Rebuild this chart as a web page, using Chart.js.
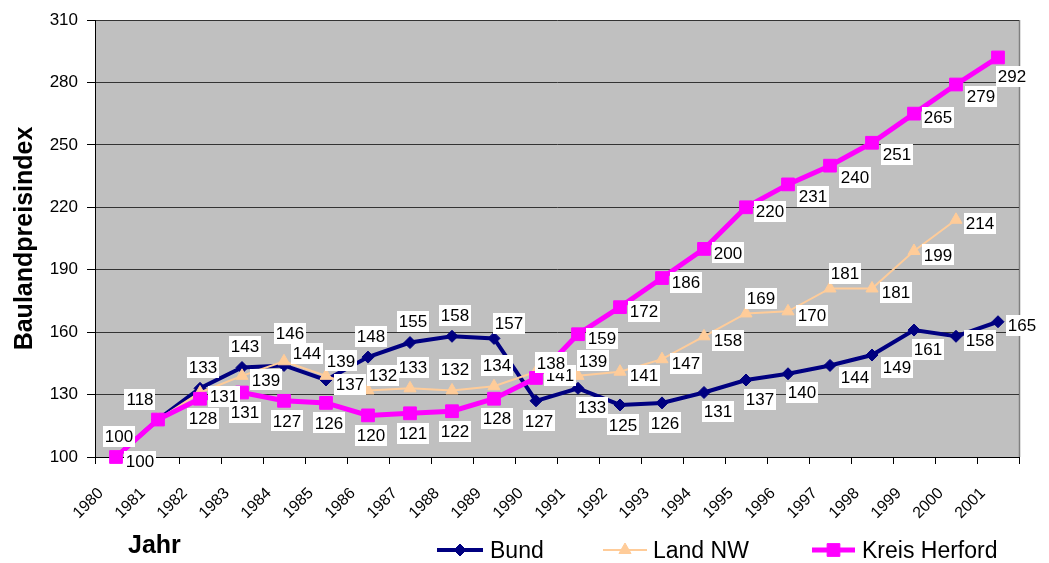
<!DOCTYPE html>
<html>
<head>
<meta charset="utf-8">
<script src="https://cdn.jsdelivr.net/npm/chart.js@4/dist/chart.umd.min.js"></script>
<style>
  html, body { margin: 0; padding: 0; background: #ffffff; }
  #wrap { width: 1049px; height: 563px; position: relative; }
  canvas { display: block; }
</style>
</head>
<body>
<div id="wrap"><canvas id="c" width="1049" height="563"></canvas></div>
<script>
// ---------- data ----------
const years = ['1980','1981','1982','1983','1984','1985','1986','1987','1988','1989','1990',
               '1991','1992','1993','1994','1995','1996','1997','1998','1999','2000','2001'];
const bund = [100,118,133,143,144,137,148,155,158,157,127,133,125,126,131,137,140,144,149,161,158,165];
const landNW = [100,118,131,139,146,139,132,133,132,134,141,139,141,147,158,169,170,181,181,199,214,null];
const kreisHerford = [100,118,128,131,127,126,120,121,122,128,138,159,172,186,200,220,231,240,251,265,279,292];
const yTickValues = [100,130,160,190,220,250,280,310];
const seriesNames = ['Bund','Land NW','Kreis Herford'];
const yTitle = 'Baulandpreisindex';
const xTitle = 'Jahr';

// label placement hints (relative side of the point), kept apart from the values
const bundLabelSide = ['a','al','a','a','ra','r','a','a','a','ar','b','br','b','b','br','br','br','rb','rb','br','r','r'];
const landLabelSide = ['r','al','r','r','aa','ar','ar','a','a','a','r','ar','r','r','r','ar','r','ar','r','r','r',null];
const herfordLabelSide = ['a','al','b','b','b','b','b','b','b','b','ar','r','r','r','r','r','rb','rb','rb','r','rb','br'];

const FONT = "'Liberation Sans', Arial, Helvetica, sans-serif";
Chart.defaults.font.family = FONT;
Chart.defaults.color = '#000000';

const sideOffsets = {
  a: [3, -21], aa: [6, -28], al: [-18, -20], ar: [15, -15], ra: [23, -12], r: [24, 4],
  rb: [25, 12], br: [14, 19], b: [3, 20]
};

function drawMarker(ctx, style, x, y, r, color) {
  ctx.save();
  ctx.fillStyle = color;
  ctx.strokeStyle = color;
  ctx.lineWidth = 1;
  ctx.beginPath();
  if (style === 'rectRot') {
    ctx.moveTo(x - r, y); ctx.lineTo(x, y - r); ctx.lineTo(x + r, y); ctx.lineTo(x, y + r);
  } else if (style === 'triangle') {
    for (let k = 0; k < 3; k++) {
      const a = k * 2 * Math.PI / 3;
      const px = x + Math.sin(a) * r, py = y - Math.cos(a) * r;
      if (k === 0) ctx.moveTo(px, py); else ctx.lineTo(px, py);
    }
  } else {
    const s = Math.SQRT1_2 * r;
    ctx.rect(x - s, y - s, 2 * s, 2 * s);
  }
  ctx.closePath();
  ctx.fill();
  ctx.stroke();
  ctx.restore();
}

const plotBg = {
  id: 'plotBg',
  beforeDraw(chart) {
    const {ctx, chartArea: a} = chart;
    ctx.save();
    ctx.fillStyle = '#ffffff';
    ctx.fillRect(0, 0, chart.width, chart.height);
    ctx.fillStyle = '#C0C0C0';
    ctx.fillRect(a.left, a.top, a.right - a.left, a.bottom - a.top);
    ctx.strokeStyle = '#808080';
    ctx.lineWidth = 1.5;
    ctx.beginPath();
    ctx.moveTo(a.right + 0.5, a.top);
    ctx.lineTo(a.right + 0.5, a.bottom);
    ctx.stroke();
    ctx.restore();
  }
};

const valueLabels = {
  id: 'valueLabels',
  afterDatasetsDraw(chart) {
    const ctx = chart.ctx;
    ctx.save();
    ctx.font = '17px ' + FONT;
    ctx.textAlign = 'center';
    ctx.textBaseline = 'middle';
    chart.data.datasets.forEach((ds, di) => {
      const meta = chart.getDatasetMeta(di);
      ds.data.forEach((v, i) => {
        if (v === null || v === undefined) return;
        const p = meta.data[i];
        const side = ds.labelSide[i] || 'r';
        const o = sideOffsets[side];
        const cx = p.x + o[0], cy = p.y + o[1];
        const txt = String(v);
        const w = ctx.measureText(txt).width + 4;
        const h = 21;
        ctx.fillStyle = '#ffffff';
        ctx.fillRect(Math.round(cx - w / 2), Math.round(cy - h / 2), Math.round(w), h);
        ctx.fillStyle = '#000000';
        ctx.fillText(txt, cx, cy + 1);
      });
    });
    ctx.restore();
  }
};

const bottomLegend = {
  id: 'bottomLegend',
  afterDraw(chart) {
    const ctx = chart.ctx;
    ctx.save();
    ctx.fillStyle = '#000000';
    ctx.textBaseline = 'alphabetic';
    ctx.textAlign = 'left';
    ctx.font = 'bold 25px ' + FONT;
    ctx.fillText(xTitle, 128, 553);

    const items = [
      {x0: 437, x1: 483, tx: 490, ds: chart.data.datasets[0]},
      {x0: 603, x1: 647, tx: 653, ds: chart.data.datasets[1]},
      {x0: 812, x1: 855, tx: 862, ds: chart.data.datasets[2]}
    ];
    const y = 550;
    ctx.font = '23px ' + FONT;
    items.forEach(it => {
      const ds = it.ds;
      ctx.strokeStyle = ds.borderColor;
      ctx.lineWidth = ds.borderWidth;
      ctx.beginPath();
      ctx.moveTo(it.x0, y);
      ctx.lineTo(it.x1, y);
      ctx.stroke();
      drawMarker(ctx, ds.pointStyle, (it.x0 + it.x1) / 2, y, ds.pointRadius, ds.borderColor);
      ctx.fillStyle = '#000000';
      ctx.fillText(ds.label, it.tx, 558);
    });
    ctx.restore();
  }
};

new Chart(document.getElementById('c'), {
  type: 'line',
  data: {
    labels: years,
    datasets: [
      {
        label: seriesNames[0], data: bund, labelSide: bundLabelSide,
        borderColor: '#000080', backgroundColor: '#000080',
        borderWidth: 4, pointStyle: 'rectRot', pointRadius: 6, pointHoverRadius: 6,
        pointBorderWidth: 1, pointBackgroundColor: '#000080', pointBorderColor: '#000080',
        tension: 0, clip: false, order: 3, spanGaps: false
      },
      {
        label: seriesNames[1], data: landNW, labelSide: landLabelSide,
        borderColor: '#FFCC99', backgroundColor: '#FFCC99',
        borderWidth: 2, pointStyle: 'triangle', pointRadius: 7, pointHoverRadius: 7,
        pointBorderWidth: 1, pointBackgroundColor: '#FFCC99', pointBorderColor: '#FFCC99',
        tension: 0, clip: false, order: 2, spanGaps: false
      },
      {
        label: seriesNames[2], data: kreisHerford, labelSide: herfordLabelSide,
        borderColor: '#FF00FF', backgroundColor: '#FF00FF',
        borderWidth: 5, pointStyle: 'rect', pointRadius: 9, pointHoverRadius: 9,
        pointBorderWidth: 1, pointBackgroundColor: '#FF00FF', pointBorderColor: '#FF00FF',
        tension: 0, clip: false, order: 1, spanGaps: false
      }
    ]
  },
  options: {
    responsive: false,
    maintainAspectRatio: false,
    devicePixelRatio: 1,
    animation: false,
    events: [],
    layout: { padding: { left: 0, right: 30, top: 20, bottom: 0 } },
    plugins: {
      legend: { display: false },
      tooltip: { enabled: false },
      title: { display: false }
    },
    scales: {
      x: {
        type: 'category',
        offset: true,
        afterFit(scale) { scale.height = 106; },
        grid: { offset: true, drawOnChartArea: false, drawTicks: true, tickLength: 7,
                color: '#000000', tickColor: '#000000', lineWidth: 1 },
        border: { display: true, color: '#000000', width: 1 },
        ticks: { autoSkip: false, minRotation: 45, maxRotation: 45, padding: 20, labelOffset: -15,
                 font: { size: 16 }, color: '#000000' },
        title: { display: false }
      },
      y: {
        min: 100, max: 310,
        afterFit(scale) { scale.width = 95; },
        afterBuildTicks(scale) { scale.ticks = yTickValues.map(v => ({ value: v })); },
        grid: { color: '#333333', tickColor: '#000000', tickLength: 8, lineWidth: 1, drawTicks: true },
        border: { display: true, color: '#000000', width: 1 },
        ticks: { padding: 9, font: { size: 17 }, color: '#000000' },
        title: { display: true, text: yTitle, font: { size: 25, weight: 'bold' }, color: '#000000',
                 padding: { top: 10, bottom: 0 } }
      }
    }
  },
  plugins: [plotBg, valueLabels, bottomLegend]
});
</script>
</body>
</html>
